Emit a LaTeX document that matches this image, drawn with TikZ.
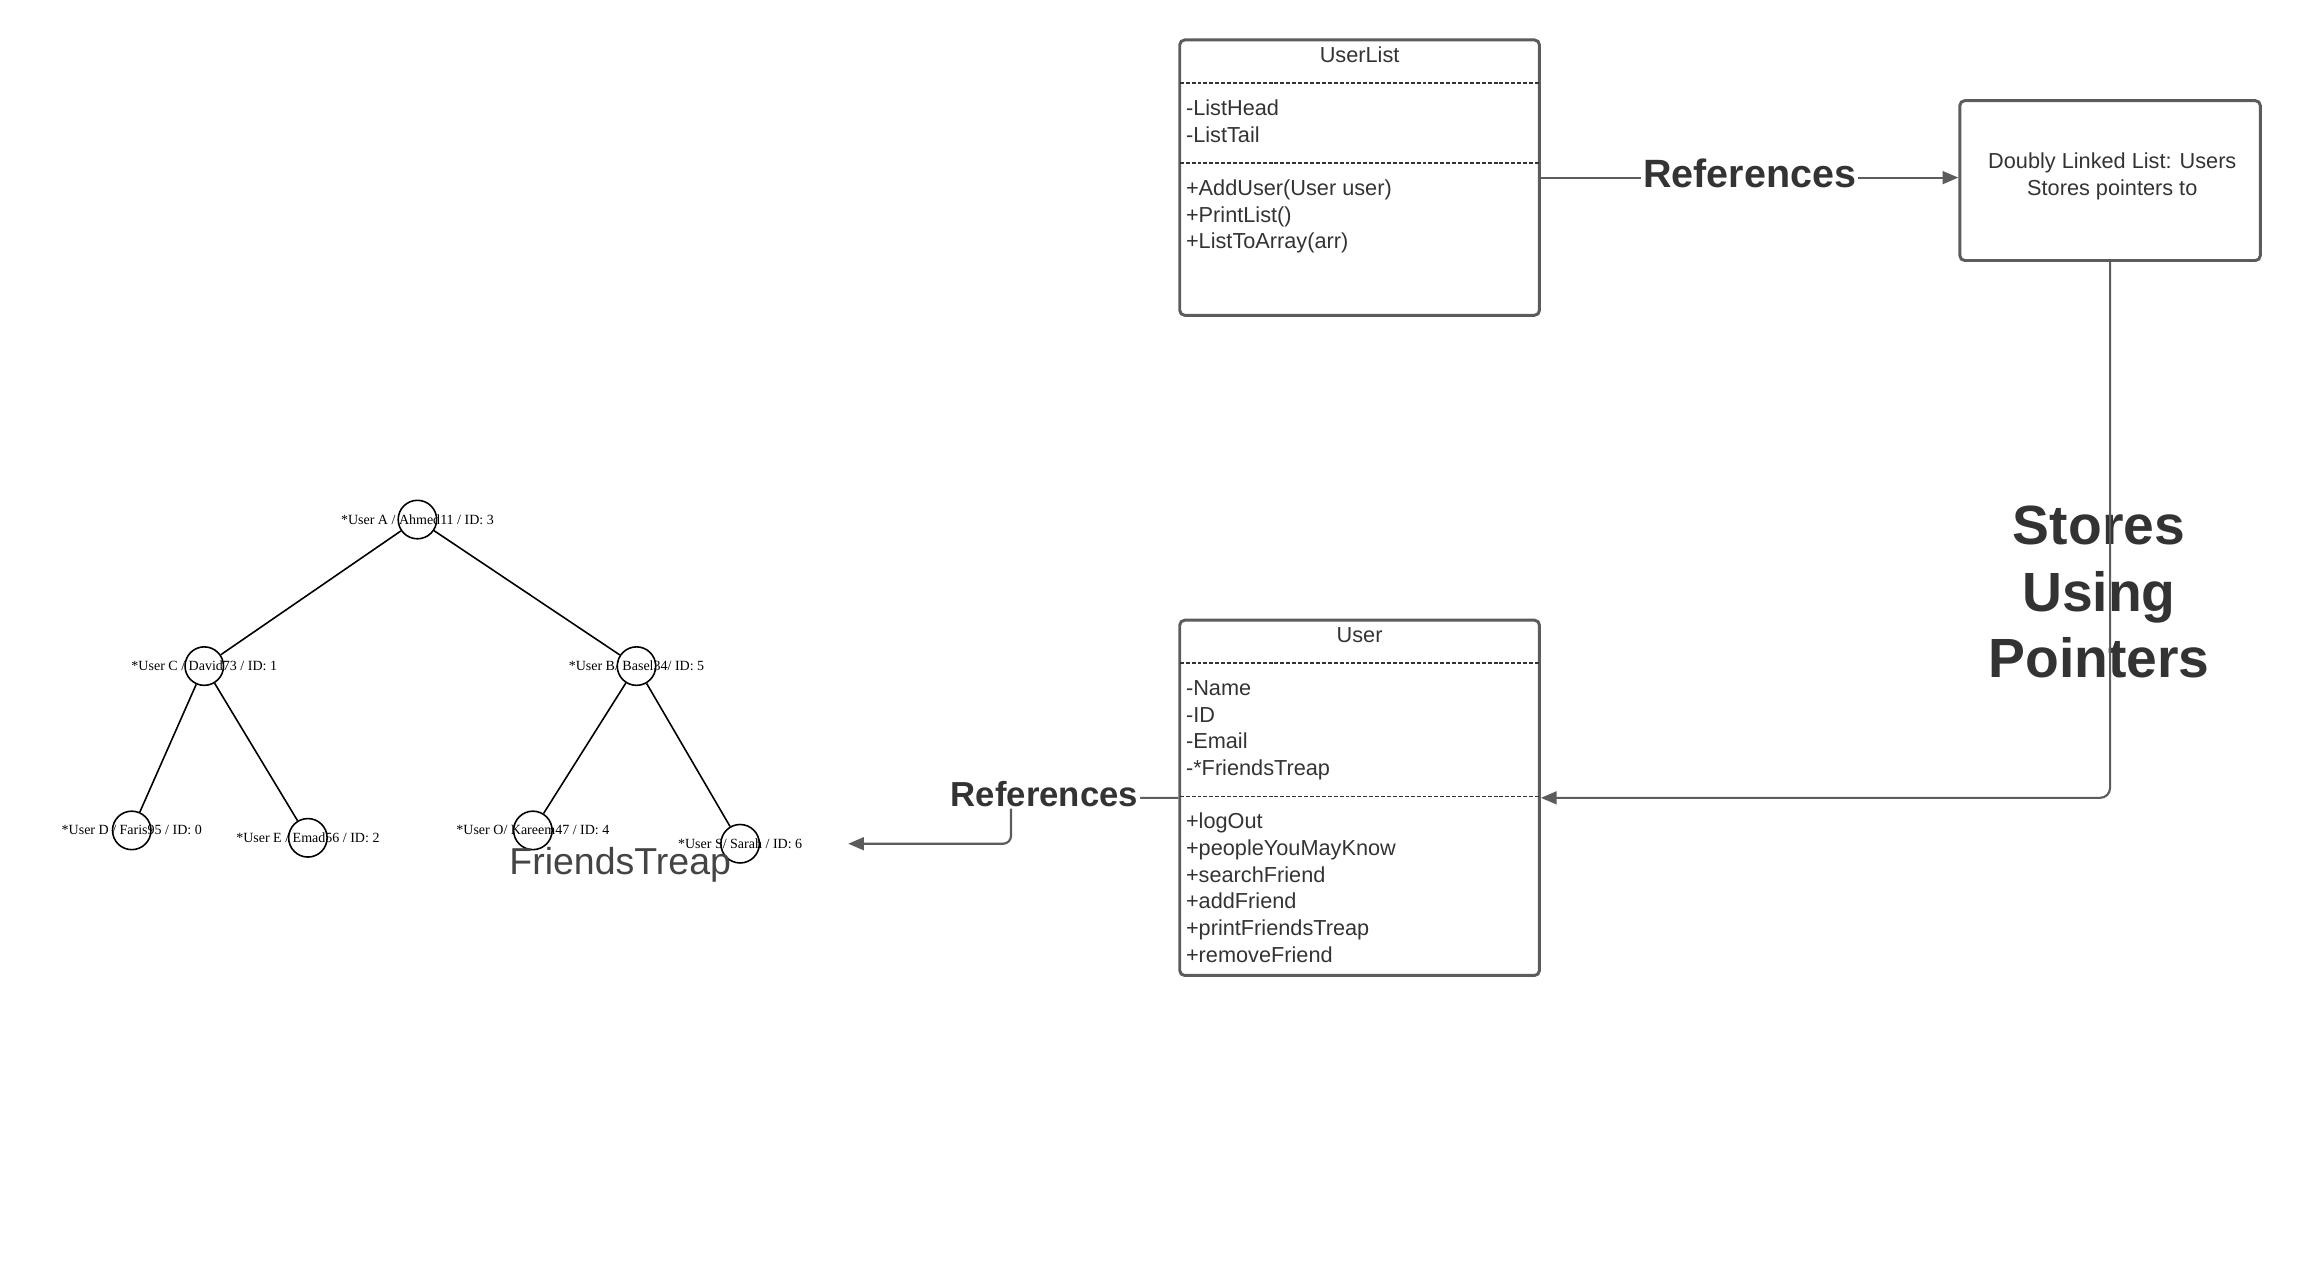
\documentclass[tikz,border=0pt]{standalone}
\usepackage{fontspec}
\setmainfont{Liberation Sans}
\newfontfamily\treefont{Liberation Serif}
\usetikzlibrary{arrows.meta}
\definecolor{umltext}{HTML}{333333}
\definecolor{umlline}{HTML}{5C5C5C}
\definecolor{treaptext}{HTML}{444444}

\begin{document}
\begin{tikzpicture}[x=0.75pt,y=-0.75pt,
  umlbox/.style={draw=umlline,line width=1.5pt,rounded corners=2.5pt,inner sep=0,minimum width=182.25pt},
  sep/.style={draw=umltext,line width=0.7pt,dash pattern=on 2pt off 1pt},
  title/.style={anchor=base,inner sep=0,text=umltext,font=\fontsize{11}{13}\selectfont},
  member/.style={anchor=base west,inner sep=0,text=umltext,font=\fontsize{11}{13}\selectfont},
  conn/.style={draw=umlline,line width=1.1pt,-{Triangle[length=8pt,width=6.5pt]}},
  reflbl/.style={fill=white,inner sep=1pt,text=umltext,font=\bfseries\fontsize{20}{24}\selectfont},
  treenode/.style={circle,draw,line width=0.8pt,minimum size=19.5pt,inner sep=0},
  treelbl/.style={inner sep=0,font=\treefont\fontsize{7.1}{8}\selectfont},
  edge/.style={draw,line width=0.8pt}]
\useasboundingbox (0,0) rectangle (1568,870);

% UserList class
\node[umlbox,minimum height=139.5pt] (userlist) at (918.5,120) {};
\node[title] (ultitle) at (918.5,42) {UserList};
\draw[sep] (797,56) -- (1040,56);
\draw[sep] (797,110) -- (1040,110);
\foreach \txt [count=\i from 0] in {-ListHead,-ListTail}
  \node[member] at (801,78+18*\i) {\txt};
\foreach \txt [count=\i from 0] in {+AddUser(User user),+PrintList(),+ListToArray(arr)}
  \node[member] at (801,132+18*\i) {\txt};

% doubly linked list box
\node[umlbox,minimum width=152.25pt,minimum height=81pt] (dll) at (1425.5,122) {};
\node[align=center,inner sep=0,text=umltext,font=\fontsize{11}{13.5}\selectfont] (dlltxt) at (1427,119) {Doubly Linked List: Users\\Stores pointers to};

% User class
\node[umlbox,minimum height=180pt] (user) at (918.5,539) {};
\node[title] (usertitle) at (918.5,434) {User};
\draw[sep] (797,448) -- (1040,448);
\draw[sep] (797,538) -- (1040,538);
\foreach \txt [count=\i from 0] in {-Name,-ID,-Email,-*FriendsTreap}
  \node[member] at (801,470+18*\i) {\txt};
\foreach \txt [count=\i from 0] in {+logOut,+peopleYouMayKnow,+searchFriend,+addFriend,+printFriendsTreap,+removeFriend}
  \node[member] at (801,560+18*\i) {\txt};

% connectors
\draw[conn] (userlist.east) -- node[reflbl,yshift=2pt] {References} (userlist.east -| dll.west);
\node[align=center,text=umltext,font=\bfseries\fontsize{28}{33.75}\selectfont] (stores) at (1418,400) {Stores\\Using\\Pointers};
\draw[conn,rounded corners=5pt] (dll.south) |- (user.east);
\coordinate (treeref) at (573,570);
\draw[conn,rounded corners=4pt] (user.west) -- node[reflbl,pos=0.8,yshift=2pt,font=\bfseries\fontsize{17.6}{21}\selectfont] {References} ++(-113,0) |- (treeref);

% friends treap
\node[treelbl] at (282,351) {*User A / Ahmed11 / ID: 3};
\node[treelbl] at (138,450) {*User C / David73 / ID: 1};
\node[treelbl] at (430,450) {*User B/ Basel34/ ID: 5};
\node[treelbl] at (89,561) {*User D / Faris95 / ID: 0};
\node[treelbl] at (208,566) {*User E / Emad56 / ID: 2};
\node[treelbl] at (360,561) {*User O/ Kareem47 / ID: 4};
\node[treelbl] at (500,570) {*User S/ Sarah / ID: 6};
\node[treenode] (ua) at (282,351) {};
\node[treenode] (uc) at (138,450) {};
\node[treenode] (ub) at (430,450) {};
\node[treenode] (ud) at (89,561) {};
\node[treenode] (ue) at (208,566) {};
\node[treenode] (uo) at (360,561) {};
\node[treenode] (us) at (500,570) {};
\draw[edge] (ua) -- (uc);
\draw[edge] (ua) -- (ub);
\draw[edge] (uc) -- (ud);
\draw[edge] (uc) -- (ue);
\draw[edge] (ub) -- (uo);
\draw[edge] (ub) -- (us);
\node[text=treaptext,font=\fontsize{19}{22}\selectfont] (treaplbl) at (419,584) {FriendsTreap};
\end{tikzpicture}
\end{document}
